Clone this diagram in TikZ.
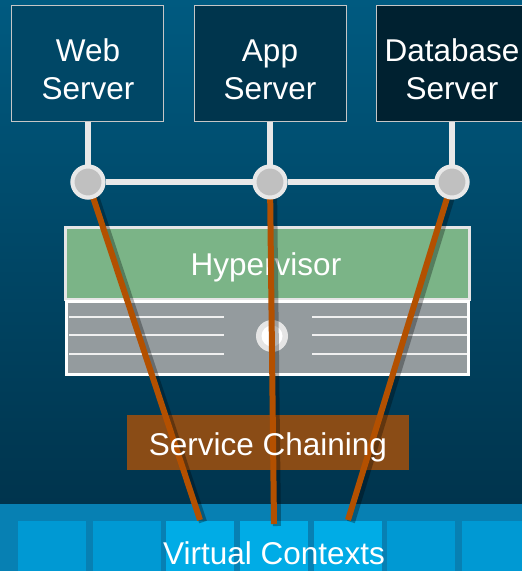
\documentclass[tikz,border=0pt]{standalone}
\usepackage{fontspec}
\setmainfont{Liberation Sans}
\definecolor{bgtop}{HTML}{005A80}
\definecolor{bgbot}{HTML}{00344D}
\definecolor{stripc}{HTML}{0780B3}
\definecolor{cellc}{HTML}{0099D3}
\definecolor{cellhi}{HTML}{00ACE6}
\definecolor{webc}{HTML}{004766}
\definecolor{appc}{HTML}{00354D}
\definecolor{dbc}{HTML}{002130}
\definecolor{hypc}{HTML}{7BB487}
\definecolor{chassisc}{HTML}{949B9E}
\definecolor{chainc}{HTML}{8A4C16}
\definecolor{linkc}{HTML}{B35000}
\definecolor{stemc}{HTML}{E8E8E8}
\definecolor{portc}{HTML}{C0C0C0}
\begin{document}
\begin{tikzpicture}[x=1pt,y=-1pt,
  lbl/.style={text=white,font=\fontsize{31.5}{38}\selectfont,align=center,inner sep=0pt},
  srv/.style={draw=white!55!gray,line width=0.8pt,minimum width=152pt,minimum height=116pt,inner sep=0pt,anchor=north west},
  stem/.style={draw=stemc,line width=6pt},
  port/.style={circle,draw=stemc,line width=4pt,fill=portc,minimum size=31pt,inner sep=0pt},
  cell/.style={fill=#1,minimum width=68pt,minimum height=56pt,inner sep=0pt,anchor=north west},
  link/.style={draw=linkc,line width=6pt},
  linkshadow/.style={draw=black,opacity=0.3,line width=8pt},
  slot/.style={draw=white!88!gray,line width=1.5pt}]
\useasboundingbox (0,0) rectangle (522,571);
\clip (0,0) rectangle (522,571);

% backdrop and the strip of virtual contexts
\shade[top color=bgtop,bottom color=bgbot] (0,0) rectangle (522,504);
\fill[stripc] (0,504) rectangle (522,571);
\node[cell=cellc] (v1) at (18,521) {};
\node[cell=cellc] (v2) at (93,521) {};
\node[cell=cellhi] (v3) at (166,521) {};
\node[cell=cellhi] (v4) at (240,521) {};
\node[cell=cellhi] (v5) at (314,521) {};
\node[cell=cellc] (v6) at (387,521) {};
\node[cell=cellc] (v7) at (462,521) {};

% service chaining bar
\node[fill=chainc,minimum width=282pt,minimum height=55pt,inner sep=0pt] (chain) at (268,442.5) {};

% hypervisor and the server chassis below it
\node[fill=hypc,draw=white!80!gray,line width=3pt,minimum width=404pt,minimum height=72pt,inner sep=0pt] (hyp) at (267.5,263) {};
\node[fill=chassisc,draw=white,line width=3pt,minimum width=402pt,minimum height=73pt,inner sep=0pt] (chassis) at (267.5,337.5) {};
\foreach \yy in {317,335,354} {
  \draw[slot] (69,\yy) -- (224,\yy);
  \draw[slot] (312,\yy) -- (467,\yy);
}
\node[circle,fill=white!80!gray,minimum size=32pt,inner sep=0pt] (knob) at (272,336) {};
\node[circle,fill=white,minimum size=21pt,inner sep=0pt] (knobc) at (272,336) {};
\node[lbl,anchor=base] (hyptxt) at (266,275) {Hypervisor};

% server boxes
\node[srv,fill=webc] (web) at (11,5) {};
\node[srv,fill=appc] (app) at (194,5) {};
\node[srv,fill=dbc,minimum width=160pt] (db) at (376,5) {};

% ports on the virtual switch
\node[port] (c1) at (88,182) {};
\node[port] (c2) at (270,182) {};
\node[port] (c3) at (452,182) {};

% service chain links down to the contexts
\coordinate (e1) at (200,520);
\coordinate (e2) at (274,524);
\coordinate (e3) at (348,520);
\foreach \p/\q in {c1/e1,c2/e2,c3/e3} {
  \draw[linkshadow] ([shift={(3,2)}]\p.center) -- ([shift={(3,2)}]\q);
}
\foreach \p/\q in {c1/e1,c2/e2,c3/e3} {
  \draw[link] (\p.center) -- (\q);
}

% switch bus and stems
\draw[stem] (c1 |- web.south) -- (c1);
\draw[stem] (c2 |- app.south) -- (c2);
\draw[stem] (c3 |- db.south) -- (c3);
\draw[stem] (c1) -- (c2) -- (c3);
\node[port] at (c1) {};
\node[port] at (c2) {};
\node[port] at (c3) {};

% labels
\node[lbl] (webtxt) at (88,69.7) {Web\\Server};
\node[lbl] (apptxt) at (270,69.7) {App\\Server};
\node[lbl] (dbtxt) at (452,69.7) {Database\\Server};
\node[lbl,anchor=base] (chaintxt) at (268,455) {Service Chaining};
\node[lbl,anchor=base] (vctxt) at (274,564.5) {Virtual Contexts};
\end{tikzpicture}
\end{document}
